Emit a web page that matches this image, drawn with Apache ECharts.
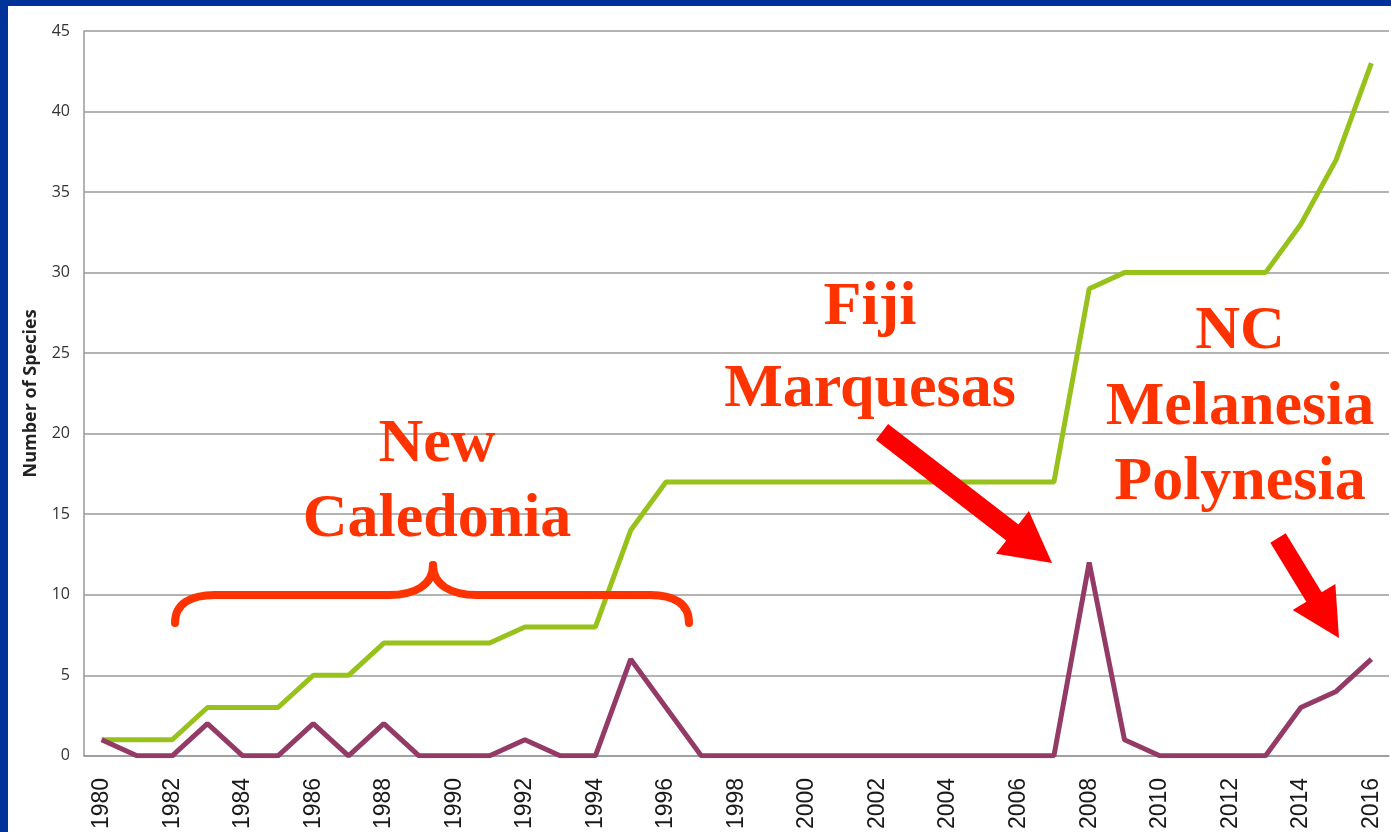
<!DOCTYPE html>
<html>
<head>
<meta charset="utf-8">
<script src="https://cdn.jsdelivr.net/npm/echarts@6/dist/echarts.min.js"></script>
<style>
html,body{margin:0;padding:0;background:#fff;}
#c{width:1391px;height:832px;}
</style>
</head>
<body>
<div id="c"></div>
<script>
const years = ['1980','1981','1982','1983','1984','1985','1986','1987','1988','1989','1990','1991','1992','1993','1994','1995','1996','1997','1998','1999','2000','2001','2002','2003','2004','2005','2006','2007','2008','2009','2010','2011','2012','2013','2014','2015','2016'];
const cumulative = [1,1,1,3,3,3,5,5,7,7,7,7,8,8,8,14,17,17,17,17,17,17,17,17,17,17,17,17,29,30,30,30,30,30,33,37,43];
const perYear = [1,0,0,2,0,0,2,0,2,0,0,0,1,0,0,6,3,0,0,0,0,0,0,0,0,0,0,0,12,1,0,0,0,0,3,4,6];
const yTicks = [0,5,10,15,20,25,30,35,40,45];

const RED_TXT = '#ff3300';
const ARROW = '#ff0000';
const FONT = 'bold 62px "Liberation Serif", serif';

function arrow(tx, ty, hx, hy, shaftW, headLen, headHalf) {
  const dx = hx - tx, dy = hy - ty, L = Math.sqrt(dx*dx + dy*dy);
  const ux = dx / L, uy = dy / L, px = -uy, py = ux;
  const bx = hx - ux * headLen, by = hy - uy * headLen;
  const s = shaftW / 2;
  const pts = [
    [tx + px*s, ty + py*s],
    [bx + px*s, by + py*s],
    [bx + px*headHalf, by + py*headHalf],
    [hx, hy],
    [bx - px*headHalf, by - py*headHalf],
    [bx - px*s, by - py*s],
    [tx - px*s, ty - py*s]
  ];
  return { type: 'polygon', z: 100, shape: { points: pts }, style: { fill: ARROW } };
}
function label(text, x, y) {
  return { type: 'text', z: 100, x: x, y: y, style: { text: text, font: FONT, fill: RED_TXT, textAlign: 'center', textVerticalAlign: 'middle' } };
}
const braceStyle = { fill: null, stroke: RED_TXT, lineWidth: 8, lineCap: 'round' };
function bz(x1, y1, c1x, c1y, c2x, c2y, x2, y2) {
  return { type: 'bezierCurve', z: 100, shape: { x1: x1, y1: y1, cpx1: c1x, cpy1: c1y, cpx2: c2x, cpy2: c2y, x2: x2, y2: y2 }, style: braceStyle };
}
function ln(x1, y1, x2, y2) {
  return { type: 'line', z: 100, shape: { x1: x1, y1: y1, x2: x2, y2: y2 }, style: braceStyle };
}

const chart = echarts.init(document.getElementById('c'));
chart.setOption({
  animation: false,
  backgroundColor: '#ffffff',
  grid: { left: 84, right: 2, top: 31, bottom: 75, containLabel: false },
  xAxis: {
    type: 'category',
    data: years,
    boundaryGap: true,
    axisLine: { show: true, lineStyle: { color: '#999', width: 1.5 } },
    axisTick: { show: false },
    axisLabel: { interval: 1, rotate: 90, margin: 22, fontSize: 23, color: '#1a1a1a', fontFamily: '"Liberation Sans", Arial, sans-serif' }
  },
  yAxis: {
    type: 'value',
    min: 0, max: 45, interval: 5,
    name: 'Number of Species',
    nameLocation: 'middle',
    nameGap: 44,
    nameTextStyle: { fontSize: 18, fontWeight: 'bold', color: '#222', fontFamily: '"Open Sans", "DejaVu Sans", sans-serif' },
    axisLine: { show: true, lineStyle: { color: '#999', width: 1.5 } },
    axisTick: { show: false },
    axisLabel: { margin: 14, fontSize: 16, color: '#333', fontFamily: '"Open Sans", "DejaVu Sans", sans-serif',
      formatter: v => yTicks.indexOf(v) >= 0 ? String(v) : '' },
    splitLine: { show: true, lineStyle: { color: '#9a9a9a', width: 1.5 } }
  },
  series: [
    { type: 'line', data: cumulative, symbol: 'none', lineStyle: { color: '#97c21c', width: 5 }, z: 3 },
    { type: 'line', data: perYear, symbol: 'none', lineStyle: { color: '#933a66', width: 5 }, z: 4 }
  ],
  graphic: [
    { type: 'rect', z: 200, shape: { x: 0, y: 0, width: 1391, height: 6 }, style: { fill: '#003399' } },
    { type: 'rect', z: 200, shape: { x: 0, y: 0, width: 8, height: 832 }, style: { fill: '#003399' } },
    label('New', 437, 445),
    label('Caledonia', 437, 520),
    label('Fiji', 870, 308),
    label('Marquesas', 870, 390),
    label('NC', 1240, 332),
    label('Melanesia', 1240, 408),
    label('Polynesia', 1240, 483),
    bz(175, 623, 175, 604, 190, 595, 215, 595),
    ln(215, 595, 389, 595),
    bz(389, 595, 415, 595, 433, 585, 433, 565),
    bz(433, 565, 433, 585, 451, 595, 477, 595),
    ln(477, 595, 650, 595),
    bz(650, 595, 675, 595, 689, 604, 689, 623),
    arrow(882, 432, 1052, 563, 20, 50, 27),
    arrow(1278, 538, 1339, 638, 18, 48, 25)
  ]
});
</script>
</body>
</html>
